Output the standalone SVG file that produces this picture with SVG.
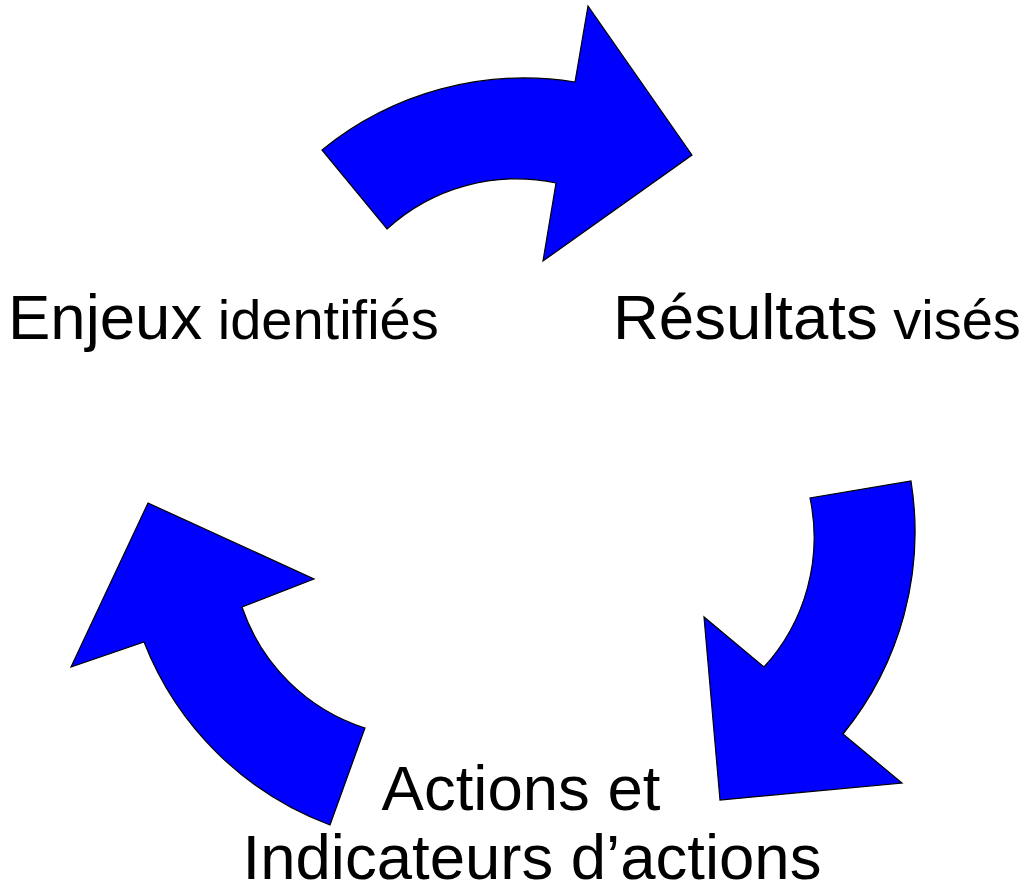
<svg xmlns="http://www.w3.org/2000/svg" width="1026" height="893" viewBox="0 0 1026 893">
<style>
.arrow{fill:#0000FF;stroke:#000;stroke-width:1.2;stroke-linejoin:miter}
.lbl{font-family:"Liberation Sans",Arial,sans-serif;fill:#000}
.big{font-size:63.5px}
.small{font-size:56px}
</style>
<rect width="1026" height="893" fill="#fff"/>
<g id="connectors">
<path id="arrow-top" class="arrow" d="M322,150 A320 320 0 0 1 575,82 L588,6 L692,155 L543,261 L556,183 A192 192 0 0 0 387,229 Z"/>
<path id="arrow-right" class="arrow" d="M911,481 A320 320 0 0 1 843,734 L902,783 L720,800 L704,617 L764,667 A192 192 0 0 0 810,498 Z"/>
<path id="arrow-left" class="arrow" d="M330,825 A320 320 0 0 1 144,642 L71,667 L148,503 L314,579 L242,607 A192 192 0 0 0 365,728 Z"/>
</g>
<g id="node-enjeux">
<text class="lbl" x="8" y="339"><tspan class="big">Enjeux</tspan><tspan class="small"> identifiés</tspan></text>
</g>
<g id="node-resultats">
<text class="lbl" x="613" y="339"><tspan class="big">Résultats</tspan><tspan class="small"> visés</tspan></text>
</g>
<g id="node-actions">
<text class="lbl big" text-anchor="middle" x="521" y="810">Actions et</text>
<text class="lbl big" text-anchor="middle" x="532" y="879">Indicateurs d’actions</text>
</g>
</svg>
